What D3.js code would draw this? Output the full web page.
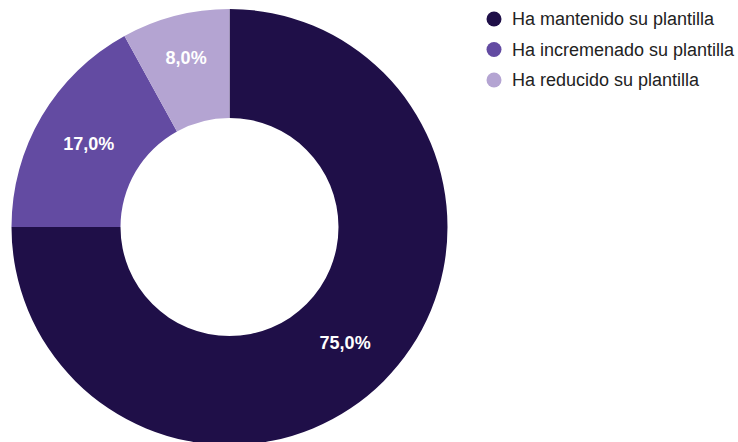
<!DOCTYPE html>
<html>
<head>
<meta charset="utf-8">
<script src="https://cdn.jsdelivr.net/npm/d3@7"></script>
<style>
  html, body { margin: 0; padding: 0; background: #ffffff; }
  svg { display: block; font-family: "Liberation Sans", Arial, sans-serif; }
</style>
</head>
<body>
<svg id="chart" width="738" height="442"></svg>
<script>
// Plantilla: share of companies by change in headcount
const categories = ["Ha mantenido su plantilla", "Ha incremenado su plantilla", "Ha reducido su plantilla"];
const values = [75.0, 17.0, 8.0];
const colors = ["#1f0f48", "#634ba2", "#b4a4d2"];

const svg = d3.select("#chart");

const cx = 229.5, cy = 227;
const outerR = 218, innerR = 109;

const pie = d3.pie().sort(null).value(d => d.value);
const arc = d3.arc().innerRadius(innerR).outerRadius(outerR);
// Narrow slices get their label nudged outward, where the ring is wider
const narrowArc = d3.arc().innerRadius(outerR * 0.8).outerRadius(outerR * 0.8);

const data = categories.map((c, i) => ({ name: c, value: values[i], color: colors[i] }));
const fmt = v => d3.format(".1f")(v).replace(".", ",") + "%";

const g = svg.append("g").attr("transform", `translate(${cx},${cy})`);
const arcs = pie(data);

g.selectAll("path.slice")
  .data(arcs)
  .join("path")
  .attr("class", "slice")
  .attr("d", arc)
  .attr("fill", d => d.data.color);

g.selectAll("text.val")
  .data(arcs)
  .join("text")
  .attr("class", "val")
  .attr("transform", d => {
    const narrow = (d.endAngle - d.startAngle) < 0.6;
    return `translate(${(narrow ? narrowArc : arc).centroid(d)})`;
  })
  .attr("text-anchor", "middle")
  .attr("dy", "0.35em")
  .attr("fill", "#ffffff")
  .attr("font-weight", "bold")
  .attr("font-size", 18)
  .text(d => fmt(d.data.value));

// Legend
const legend = svg.append("g").attr("transform", "translate(494,19)");
const rowStep = 30.5;
const items = legend.selectAll("g.item")
  .data(data)
  .join("g")
  .attr("class", "item")
  .attr("transform", (d, i) => `translate(0,${i * rowStep})`);

items.append("circle")
  .attr("r", 7.5)
  .attr("fill", d => d.color);

items.append("text")
  .attr("x", 18)
  .attr("dy", "0.35em")
  .attr("font-size", 18)
  .attr("fill", "#222222")
  .text(d => d.name);
</script>
</body>
</html>
